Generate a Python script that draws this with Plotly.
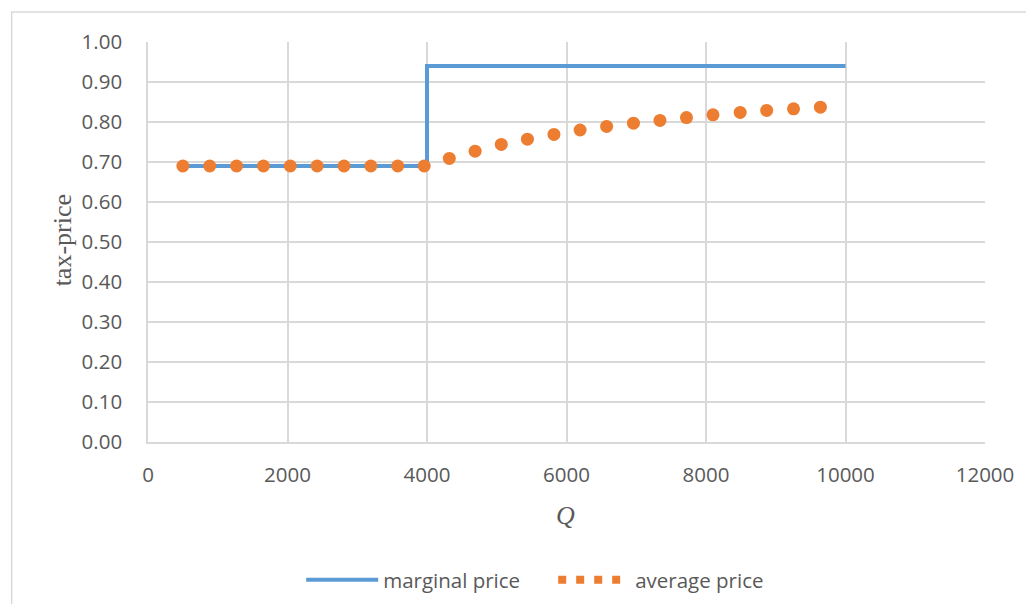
import plotly.graph_objects as go

# Marginal price schedule (step at Q = 4000)
marginal_q = [500, 4000, 4000, 10000]
marginal_price = [0.69, 0.69, 0.94, 0.94]

# Average price points
average_q = [500, 885, 1270, 1655, 2040, 2425, 2810, 3195, 3580, 3960,
             4320, 4690, 5065, 5440, 5820, 6195, 6575, 6960, 7340, 7720,
             8100, 8490, 8870, 9255, 9640]
average_price = [0.69, 0.69, 0.69, 0.69, 0.69, 0.69, 0.69, 0.69, 0.69, 0.69,
                 0.709, 0.727, 0.744, 0.757, 0.769, 0.780, 0.789, 0.797, 0.804, 0.811,
                 0.818, 0.824, 0.829, 0.833, 0.837]

x_ticks = [0, 2000, 4000, 6000, 8000, 10000, 12000]
y_ticks = [0.0, 0.1, 0.2, 0.3, 0.4, 0.5, 0.6, 0.7, 0.8, 0.9, 1.0]

BLUE = "#5B9BD5"
ORANGE = "#ED7D31"
GRID = "#D9D9D9"
TEXT = "#595959"
FONT = "Open Sans"

fig = go.Figure()
fig.add_trace(go.Scatter(
    x=marginal_q, y=marginal_price, mode="lines", name="marginal price",
    line=dict(color=BLUE, width=4), legendrank=1))
fig.add_trace(go.Scatter(
    x=average_q, y=average_price, mode="markers", name="average price",
    marker=dict(color=ORANGE, size=13), showlegend=False,
    legendgroup="avg"))
# legend entry for the dotted average-price series
fig.add_trace(go.Scatter(
    x=[None], y=[None], mode="lines", name="average price",
    line=dict(color=ORANGE, width=8, dash="8px,10px"), legendgroup="avg",
    legendrank=2))

# The page body has an 8px margin, so the figure is sized/offset to compensate
fig.update_layout(
    width=1018, height=596,
    margin=dict(l=140, r=36, t=34, b=162),
    paper_bgcolor="white", plot_bgcolor="white",
    font=dict(family=FONT, size=20.5, color=TEXT),
    showlegend=True,
    legend=dict(orientation="h", xref="container", yref="container",
                x=0.288, xanchor="left", y=0.0403, yanchor="middle",
                font=dict(family=FONT, size=20.5, color=TEXT),
                itemwidth=72, entrywidth=165, entrywidthmode="pixels",
                bgcolor="rgba(0,0,0,0)"),
    xaxis=dict(range=[0, 12000], tickvals=x_ticks,
               ticktext=[str(v) for v in x_ticks],
               showgrid=True, gridcolor=GRID, gridwidth=1.5,
               showline=True, linecolor=GRID, linewidth=1.5,
               zeroline=False, ticks="", ticklabelstandoff=14,
               tickfont=dict(family=FONT, size=20.5, color=TEXT)),
    yaxis=dict(range=[0, 1.0], tickvals=y_ticks,
               ticktext=[f"{v:.2f}" for v in y_ticks],
               showgrid=True, gridcolor=GRID, gridwidth=1.5,
               showline=True, linecolor=GRID, linewidth=1.5,
               zeroline=False, ticks="", ticklabelstandoff=20,
               tickfont=dict(family=FONT, size=20.5, color=TEXT)),
    annotations=[
        dict(text="tax-price", xref="paper", yref="paper",
             x=-0.1023, y=0.505, xanchor="center", yanchor="middle",
             textangle=-90, showarrow=False,
             font=dict(family="Liberation Serif", size=26, color=TEXT)),
        dict(text="<i>Q</i>", xref="paper", yref="paper",
             x=0.4994, y=-0.1825, xanchor="center", yanchor="middle",
             showarrow=False,
             font=dict(family="Liberation Serif", size=26, color=TEXT)),
    ],
    shapes=[dict(type="rect", xref="paper", yref="paper",
                 x0=-0.1629, y0=-0.6, x1=1.2, y1=1.075,
                 line=dict(color=GRID, width=1.5), layer="below")],
)

fig.write_html("out.html")
